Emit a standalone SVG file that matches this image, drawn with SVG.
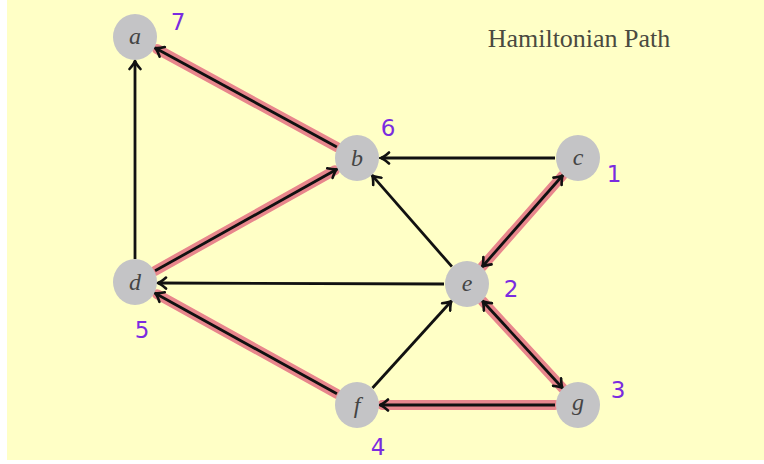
<svg xmlns="http://www.w3.org/2000/svg" width="764" height="464" viewBox="0 0 764 464">
<defs>
<style>
.node{fill:#c4c4c6}
.lbl{font-family:"Liberation Serif",serif;font-style:italic;font-size:24px;fill:#444;text-anchor:middle}
.num{font-family:"DejaVu Sans",sans-serif;font-size:23px;fill:#7a2be0;text-anchor:middle}
.hl{stroke:#e8868c;stroke-width:10;fill:none;stroke-linecap:round}
.e{stroke:#111;stroke-width:2.8;fill:none}
</style>
<marker id="ah" viewBox="-10 -7 12 14" refX="0" refY="0" markerWidth="12" markerHeight="14" markerUnits="userSpaceOnUse" orient="auto-start-reverse">
<path d="M-8,-5.5 Q-3,-1 0,0 Q-3,1 -8,5.5" fill="none" stroke="#111" stroke-width="2.6" stroke-linecap="round"/>
</marker>
</defs>
<rect x="0" y="0" width="764" height="464" fill="#ffffff"/>
<rect x="7" y="0" width="757" height="460" fill="#ffffc6"/>
<text x="579" y="47" font-family="Liberation Serif, serif" font-size="26" fill="#4a4a40" text-anchor="middle">Hamiltonian Path</text>
<g id="connectors">
<line class="hl" x1="336.8" y1="147" x2="157" y2="49"/>
<line class="hl" x1="155.1" y1="270.8" x2="335" y2="170.2"/>
<line class="hl" x1="336.9" y1="393.8" x2="157" y2="294.2"/>
<line class="hl" x1="562.8" y1="175.3" x2="482.2" y2="266.7"/>
<line class="hl" x1="482.5" y1="301" x2="562.5" y2="388"/>
<line class="hl" x1="555" y1="405" x2="382" y2="405"/>
<line class="e" x1="336.8" y1="147" x2="155.2" y2="48" marker-end="url(#ah)"/>
<line class="e" x1="135" y1="259" x2="135" y2="61" marker-end="url(#ah)"/>
<line class="e" x1="555" y1="158" x2="381" y2="158" marker-end="url(#ah)"/>
<line class="e" x1="451.9" y1="266.7" x2="372.1" y2="175.3" marker-end="url(#ah)"/>
<line class="e" x1="155.1" y1="270.8" x2="336.9" y2="169.2" marker-end="url(#ah)"/>
<line class="e" x1="444" y1="284" x2="158" y2="283" marker-end="url(#ah)"/>
<line class="e" x1="336.9" y1="393.8" x2="155.1" y2="293.2" marker-end="url(#ah)"/>
<line class="e" x1="372.5" y1="388" x2="451.5" y2="301" marker-end="url(#ah)"/>
<line class="e" x1="562.8" y1="175.3" x2="482.2" y2="266.7" marker-start="url(#ah)" marker-end="url(#ah)"/>
<line class="e" x1="482.5" y1="301" x2="562.5" y2="388" marker-start="url(#ah)" marker-end="url(#ah)"/>
<line class="e" x1="555" y1="405" x2="380" y2="405" marker-end="url(#ah)"/>
</g>
<g id="node-a"><ellipse class="node" cx="135" cy="37" rx="22" ry="23"/><text class="lbl" x="135" y="44">a</text></g>
<g id="node-b"><ellipse class="node" cx="357" cy="158" rx="22" ry="23"/><text class="lbl" x="357" y="166">b</text></g>
<g id="node-c"><ellipse class="node" cx="578" cy="158" rx="22" ry="23"/><text class="lbl" x="578" y="165">c</text></g>
<g id="node-d"><ellipse class="node" cx="135" cy="282" rx="22" ry="23"/><text class="lbl" x="135" y="290">d</text></g>
<g id="node-e"><ellipse class="node" cx="467" cy="284" rx="22" ry="23"/><text class="lbl" x="467" y="291">e</text></g>
<g id="node-f"><ellipse class="node" cx="357" cy="405" rx="22" ry="23"/><text class="lbl" x="357" y="413">f</text></g>
<g id="node-g"><ellipse class="node" cx="578" cy="405" rx="22" ry="23"/><text class="lbl" x="578" y="410">g</text></g>
<g id="numbers">
<text class="num" x="178" y="30">7</text>
<text class="num" x="388" y="136">6</text>
<text class="num" x="614" y="182">1</text>
<text class="num" x="142" y="338">5</text>
<text class="num" x="511" y="297">2</text>
<text class="num" x="618" y="398">3</text>
<text class="num" x="378" y="455">4</text>
</g>
</svg>
